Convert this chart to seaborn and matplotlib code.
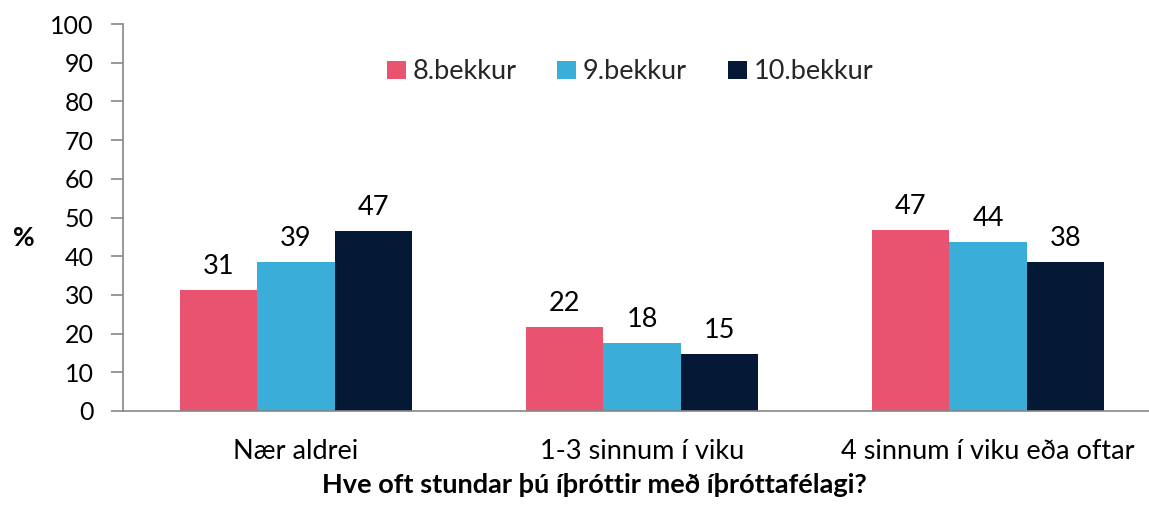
import matplotlib
matplotlib.use("Agg")
import matplotlib.pyplot as plt
import seaborn as sns
import pandas as pd

categories = ["Nær aldrei", "1-3 sinnum í viku", "4 sinnum í viku eða oftar"]
series = ["8.bekkur", "9.bekkur", "10.bekkur"]
v8 = [31.2, 21.7, 46.8]
v9 = [38.6, 17.6, 43.7]
v10 = [46.6, 14.8, 38.4]
colors = ["#E95370", "#3BADD9", "#051937"]
yticks = [0, 10, 20, 30, 40, 50, 60, 70, 80, 90, 100]

rows = []
for s, vals in zip(series, [v8, v9, v10]):
    for c, v in zip(categories, vals):
        rows.append({"cat": c, "grade": s, "val": v})
df = pd.DataFrame(rows)

sns.set_theme(style="white")
plt.rcParams["font.family"] = ["Lato", "DejaVu Sans"]

fig = plt.figure(figsize=(11.49, 5.08), dpi=100)
W, H = 1149, 508
ax = fig.add_axes([123 / W, (H - 411) / H, 1038 / W, 387 / H])

sns.barplot(data=df, x="cat", y="val", hue="grade", order=categories,
            hue_order=series, palette=colors, width=0.67, saturation=1,
            ax=ax, edgecolor="none", linewidth=0)

for cont in ax.containers:
    ax.bar_label(cont, fmt="%.0f", padding=8, fontsize=19.5, color="#000000")

ax.set_ylim(0, 100)
ax.set_xlim(-0.5, 2.5)
ax.set_yticks(yticks)
ax.set_yticklabels([str(t) for t in yticks], fontsize=18, color="#000000")
ax.set_xticks(range(len(categories)))
ax.set_xticklabels(categories, fontsize=19.5, color="#000000")
ax.set_xticks([-0.5, 0.5, 1.5, 2.5], minor=True)
ax.tick_params(axis="x", which="major", length=0, pad=20)
ax.tick_params(axis="x", which="minor", length=9, width=1.2, color="#868686", direction="out")
ax.tick_params(axis="y", which="major", length=9, width=1.2, color="#868686", direction="out", pad=12, left=True)

for side in ["top", "right"]:
    ax.spines[side].set_visible(False)
for side in ["left", "bottom"]:
    ax.spines[side].set_color("#868686")
    ax.spines[side].set_linewidth(1.2)

ax.set_xlabel("Hve oft stundar þú íþróttir með íþróttafélagi?", fontsize=19.5,
              fontweight="bold", color="#000000")
ax.set_ylabel("%", fontsize=19, fontweight="bold", rotation=0, color="#000000",
              va="center", ha="center")
ax.yaxis.set_label_coords(-0.096, 0.447)
ax.xaxis.set_label_coords((594 - 123) / 1038, -0.16)

leg = ax.legend(loc="center", bbox_to_anchor=((630 - 123) / 1038, 0.876), ncol=3,
                frameon=False, fontsize=19.5, handlelength=0.7, handleheight=0.7,
                handletextpad=0.25, columnspacing=1.5)

fig.savefig("out.png", dpi=100)
